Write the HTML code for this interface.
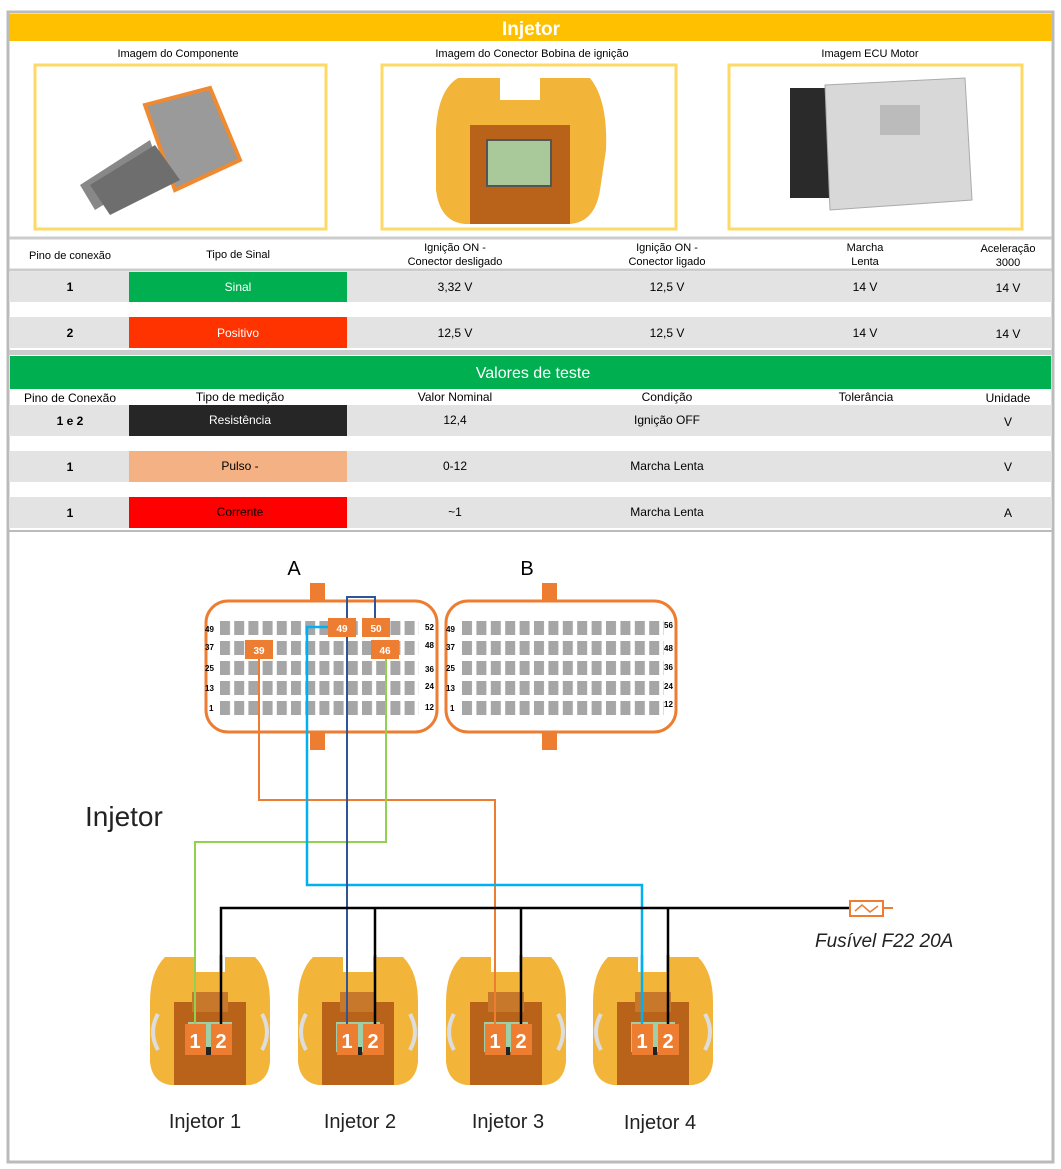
<!DOCTYPE html>
<html><head><meta charset="utf-8"><style>
html,body{margin:0;padding:0;background:#fff}
svg{display:block;font-family:"Liberation Sans",sans-serif}
</style></head><body>
<svg width="1061" height="1169" viewBox="0 0 1061 1169" xmlns="http://www.w3.org/2000/svg">
<defs>
<pattern id="pa" x="220" y="621" width="14.2" height="20" patternUnits="userSpaceOnUse"><rect x="0" y="0" width="10" height="14" fill="#a6a6a6"/></pattern>
<pattern id="pb" x="462" y="621" width="14.4" height="20" patternUnits="userSpaceOnUse"><rect x="0" y="0" width="10" height="14" fill="#a6a6a6"/></pattern>
<g id="inj">
<path d="M-45,-65 L-15,-65 L-15,-50 L15,-50 L15,-65 L45,-65 Q60,-50 60,-20 L60,40 Q58,60 40,63 L-40,63 Q-58,60 -60,40 L-60,-20 Q-60,-50 -45,-65Z" fill="#f2b53a"/>
<rect x="-36" y="-20" width="72" height="83" fill="#b8621a"/>
<rect x="-18" y="-30" width="36" height="20" fill="#c7782a"/>
<path d="M-52,-8 Q-62,10 -52,28" stroke="#ddd" stroke-width="4" fill="none"/>
<path d="M52,-8 Q62,10 52,28" stroke="#ddd" stroke-width="4" fill="none"/>
<rect x="-22" y="0" width="44" height="30" fill="#9fcfa8"/>
<rect x="-4" y="25" width="8" height="8" fill="#222"/>
</g>
</defs>
<rect x="8" y="12" width="1045" height="1150" fill="#fff" stroke="#bbb" stroke-width="3"/>
<rect x="9" y="14" width="1043" height="27" fill="#ffc000"/>
<text x="531" y="35" font-size="19" font-weight="bold" fill="#fff" text-anchor="middle">Injetor</text>
<g font-size="11" text-anchor="middle" fill="#000">
<text x="178" y="57">Imagem do Componente</text>
<text x="532" y="57">Imagem do Conector Bobina de ignição</text>
<text x="870" y="57">Imagem ECU Motor</text>
</g>
<rect x="35" y="65" width="291" height="164" fill="#fff" stroke="#ffd966" stroke-width="3"/>
<rect x="382" y="65" width="294" height="164" fill="#fff" stroke="#ffd966" stroke-width="3"/>
<rect x="729" y="65" width="293" height="164" fill="#fff" stroke="#ffd966" stroke-width="3"/>
<!-- component image -->
<path d="M80,185 L150,140 L160,170 L95,210Z" fill="#888"/>
<path d="M145,105 L210,88 L240,160 L175,190Z" fill="#9a9a9a" stroke="#f08a30" stroke-width="4"/>
<path d="M90,185 L155,145 L180,180 L110,215Z" fill="#6e6e6e"/>
<!-- connector image -->
<path d="M458,78 L500,78 L500,100 L540,100 L540,78 L590,78 Q608,100 606,150 L600,190 Q595,222 570,224 L465,224 Q440,222 436,190 L436,130 Q438,90 458,78Z" fill="#f2b53a"/>
<rect x="470" y="125" width="100" height="99" fill="#b8621a"/>
<rect x="487" y="140" width="64" height="46" fill="#a9c99a" stroke="#555" stroke-width="2"/>
<!-- ECU image -->
<rect x="790" y="88" width="40" height="110" fill="#2a2a2a"/>
<path d="M825,85 L965,78 L972,200 L830,210Z" fill="#d8d8d8" stroke="#aaa"/>
<rect x="880" y="105" width="40" height="30" fill="#bbb"/>
<!-- table 1 -->
<line x1="9" y1="238" x2="1052" y2="238" stroke="#ccc" stroke-width="3"/>
<g font-size="11" text-anchor="middle" fill="#000">
<text x="70" y="259">Pino de conexão</text>
<text x="238" y="258">Tipo de Sinal</text>
<text x="455" y="251">Ignição ON -</text><text x="455" y="265">Conector desligado</text>
<text x="667" y="251">Ignição ON -</text><text x="667" y="265">Conector ligado</text>
<text x="865" y="251">Marcha</text><text x="865" y="265">Lenta</text>
<text x="1008" y="252">Aceleração</text><text x="1008" y="266">3000</text>
</g>
<line x1="9" y1="270" x2="1052" y2="270" stroke="#ccc" stroke-width="3"/>
<rect x="9" y="272" width="1043" height="30" fill="#e3e3e3"/>
<rect x="9" y="317" width="1043" height="31" fill="#e3e3e3"/>
<rect x="129" y="272" width="218" height="30" fill="#00b050"/>
<rect x="129" y="317" width="218" height="31" fill="#ff3300"/>
<g font-size="12" text-anchor="middle" fill="#000">
<text x="70" y="291" font-weight="bold">1</text><text x="238" y="291" fill="#fff">Sinal</text>
<text x="455" y="291">3,32 V</text><text x="667" y="291">12,5 V</text><text x="865" y="291">14 V</text><text x="1008" y="292">14 V</text>
<text x="70" y="337" font-weight="bold">2</text><text x="238" y="337" fill="#fff">Positivo</text>
<text x="455" y="337">12,5 V</text><text x="667" y="337">12,5 V</text><text x="865" y="337">14 V</text><text x="1008" y="338">14 V</text>
</g>
<rect x="9" y="350" width="1043" height="5" fill="#ccc"/>
<rect x="10" y="356" width="1041" height="33" fill="#00b050"/>
<text x="533" y="378" font-size="16" fill="#fff" text-anchor="middle">Valores de teste</text>
<g font-size="12" text-anchor="middle" fill="#000">
<text x="70" y="402">Pino de Conexão</text><text x="240" y="401">Tipo de medição</text>
<text x="455" y="401">Valor Nominal</text><text x="667" y="401">Condição</text>
<text x="866" y="401">Tolerância</text><text x="1008" y="402">Unidade</text>
</g>
<rect x="9" y="405" width="1043" height="31" fill="#e3e3e3"/>
<rect x="9" y="451" width="1043" height="31" fill="#e3e3e3"/>
<rect x="9" y="497" width="1043" height="31" fill="#e3e3e3"/>
<rect x="129" y="405" width="218" height="31" fill="#262626"/>
<rect x="129" y="451" width="218" height="31" fill="#f4b183"/>
<rect x="129" y="497" width="218" height="31" fill="#ff0000"/>
<g font-size="12" text-anchor="middle" fill="#000">
<text x="70" y="425" font-weight="bold">1 e 2</text><text x="240" y="424" fill="#fff">Resistência</text>
<text x="455" y="424">12,4</text><text x="667" y="424">Ignição OFF</text><text x="1008" y="426">V</text>
<text x="70" y="471" font-weight="bold">1</text><text x="240" y="470">Pulso -</text>
<text x="455" y="470">0-12</text><text x="667" y="470">Marcha Lenta</text><text x="1008" y="471">V</text>
<text x="70" y="517" font-weight="bold">1</text><text x="240" y="516">Corrente</text>
<text x="455" y="516">~1</text><text x="667" y="516">Marcha Lenta</text><text x="1008" y="517">A</text>
</g>
<line x1="9" y1="531" x2="1052" y2="531" stroke="#bbb" stroke-width="2"/>
<!-- connectors -->
<text x="294" y="575" font-size="20" text-anchor="middle">A</text>
<text x="527" y="575" font-size="20" text-anchor="middle">B</text>
<rect x="310" y="583" width="15" height="18" fill="#ed7d31"/>
<rect x="310" y="732" width="15" height="18" fill="#ed7d31"/>
<rect x="542" y="583" width="15" height="18" fill="#ed7d31"/>
<rect x="542" y="732" width="15" height="18" fill="#ed7d31"/>
<rect x="206" y="601" width="231" height="131" rx="22" fill="#fff" stroke="#ed7d31" stroke-width="3"/>
<rect x="446" y="601" width="230" height="131" rx="22" fill="#fff" stroke="#ed7d31" stroke-width="3"/>
<rect x="220" y="621" width="199" height="100" fill="url(#pa)"/>
<rect x="462" y="621" width="202" height="100" fill="url(#pb)"/>
<g font-size="8" font-weight="bold" fill="#000">
<text x="205" y="632">49</text><text x="205" y="650">37</text><text x="205" y="671">25</text><text x="205" y="691">13</text><text x="209" y="711">1</text>
<text x="425" y="630">52</text><text x="425" y="648">48</text><text x="425" y="672">36</text><text x="425" y="689">24</text><text x="425" y="710">12</text>
<text x="446" y="632">49</text><text x="446" y="650">37</text><text x="446" y="671">25</text><text x="446" y="691">13</text><text x="450" y="711">1</text>
<text x="664" y="628">56</text><text x="664" y="651">48</text><text x="664" y="670">36</text><text x="664" y="689">24</text><text x="664" y="707">12</text>
</g>
<!-- wires -->
<g fill="none" stroke-width="2">
<polyline points="259,655 259,800 495,800 495,1035" stroke="#ed7d31"/>
<polyline points="386,655 386,842 195,842 195,1035" stroke="#92d050"/>
<polyline points="332,627 307,627 307,885 642,885 642,1035" stroke="#00b0f0" stroke-width="2.5"/>
<polyline points="375,625 375,597 347,597 347,1035" stroke="#2f5597"/>
<polyline points="221,1035 221,908 850,908" stroke="#000" stroke-width="2.5"/>
<line x1="375" y1="908" x2="375" y2="1035" stroke="#000" stroke-width="2.5"/>
<line x1="521" y1="908" x2="521" y2="1035" stroke="#000" stroke-width="2.5"/>
<line x1="668" y1="908" x2="668" y2="1035" stroke="#000" stroke-width="2.5"/>
</g>
<rect x="328" y="618" width="28" height="19" fill="#ed7d31"/><text x="342" y="632" font-size="10" fill="#fff" font-weight="bold" text-anchor="middle">49</text>
<rect x="362" y="618" width="28" height="19" fill="#ed7d31"/><text x="376" y="632" font-size="10" fill="#fff" font-weight="bold" text-anchor="middle">50</text>
<rect x="245" y="640" width="28" height="19" fill="#ed7d31"/><text x="259" y="654" font-size="10" fill="#fff" font-weight="bold" text-anchor="middle">39</text>
<rect x="371" y="640" width="28" height="19" fill="#ed7d31"/><text x="385" y="654" font-size="10" fill="#fff" font-weight="bold" text-anchor="middle">46</text>
<!-- fuse -->
<rect x="850" y="901" width="33" height="15" fill="#fff" stroke="#ed7d31" stroke-width="2"/>
<path d="M855,911 L862,905 L870,912 L878,906" stroke="#ed7d31" fill="none" stroke-width="1.5"/>
<line x1="883" y1="908" x2="893" y2="908" stroke="#ed7d31" stroke-width="2"/>
<text x="815" y="947" font-size="19" font-style="italic" fill="#222">Fusível F22 20A</text>
<text x="85" y="826" font-size="28" fill="#222">Injetor</text>
<!-- injectors -->
<use href="#inj" x="210" y="1022"/>
<use href="#inj" x="358" y="1022"/>
<use href="#inj" x="506" y="1022"/>
<use href="#inj" x="653" y="1022"/>
<g fill="none" stroke-width="2">
<line x1="195" y1="955" x2="195" y2="1035" stroke="#92d050"/>
<line x1="347" y1="955" x2="347" y2="1035" stroke="#2f5597"/>
<line x1="495" y1="955" x2="495" y2="1035" stroke="#ed7d31"/>
<line x1="642" y1="955" x2="642" y2="1035" stroke="#00b0f0" stroke-width="2.5"/>
<line x1="221" y1="955" x2="221" y2="1035" stroke="#000" stroke-width="2.5"/>
<line x1="375" y1="955" x2="375" y2="1035" stroke="#000" stroke-width="2.5"/>
<line x1="521" y1="955" x2="521" y2="1035" stroke="#000" stroke-width="2.5"/>
<line x1="668" y1="955" x2="668" y2="1035" stroke="#000" stroke-width="2.5"/>
</g>
<g font-size="20" font-weight="bold" fill="#fff" text-anchor="middle">
<rect x="185" y="1024" width="21" height="31" fill="#ed7d31"/><rect x="211" y="1024" width="21" height="31" fill="#ed7d31"/>
<text x="195" y="1048">1</text><text x="221" y="1048">2</text>
<rect x="337" y="1024" width="21" height="31" fill="#ed7d31"/><rect x="363" y="1024" width="21" height="31" fill="#ed7d31"/>
<text x="347" y="1048">1</text><text x="373" y="1048">2</text>
<rect x="485" y="1024" width="21" height="31" fill="#ed7d31"/><rect x="511" y="1024" width="21" height="31" fill="#ed7d31"/>
<text x="495" y="1048">1</text><text x="521" y="1048">2</text>
<rect x="632" y="1024" width="21" height="31" fill="#ed7d31"/><rect x="658" y="1024" width="21" height="31" fill="#ed7d31"/>
<text x="642" y="1048">1</text><text x="668" y="1048">2</text>
</g>
<g font-size="20" fill="#222" text-anchor="middle">
<text x="205" y="1128">Injetor 1</text><text x="360" y="1128">Injetor 2</text>
<text x="508" y="1128">Injetor 3</text><text x="660" y="1129">Injetor 4</text>
</g>
</svg>
</body></html>
